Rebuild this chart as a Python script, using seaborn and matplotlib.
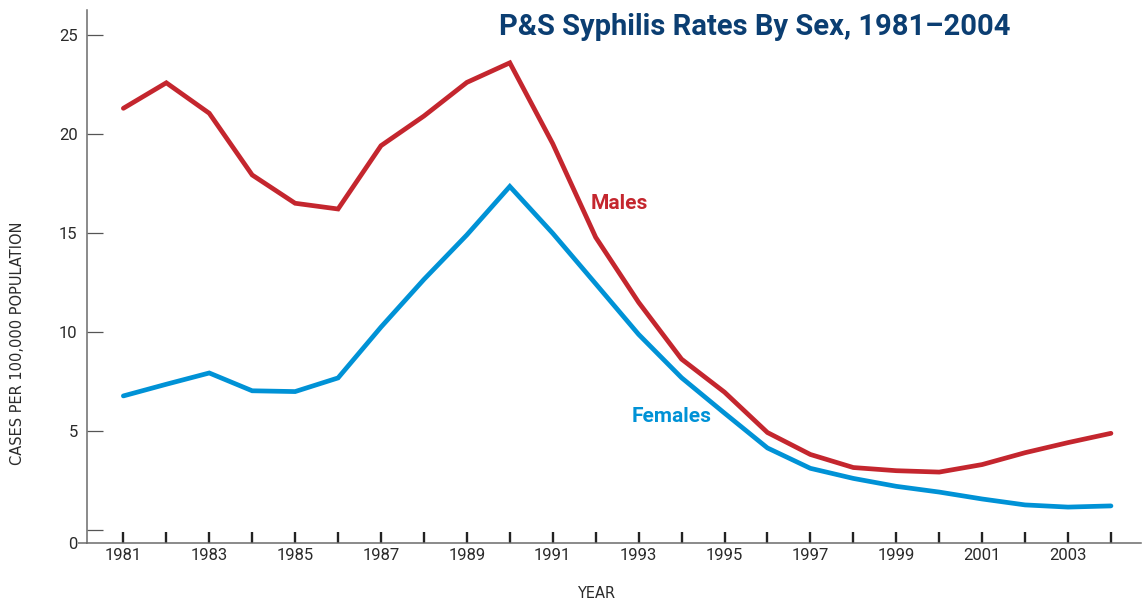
import matplotlib
matplotlib.use("Agg")
import matplotlib.pyplot as plt
import seaborn as sns
import pandas as pd

years = list(range(1981, 2005))
males = [21.30, 22.59, 21.05, 17.93, 16.50, 16.21, 19.41, 20.91, 22.61, 23.60,
         19.51, 14.78, 11.49, 8.62, 6.95, 4.91, 3.80, 3.14, 2.98, 2.91,
         3.29, 3.89, 4.40, 4.87]
females = [6.76, 7.35, 7.92, 7.02, 6.98, 7.67, 10.24, 12.65, 14.90, 17.35,
           14.98, 12.43, 9.87, 7.68, 5.89, 4.13, 3.10, 2.59, 2.19, 1.90,
           1.55, 1.25, 1.14, 1.20]
series_names = ["Males", "Females"]
y_ticks = [0, 5, 10, 15, 20, 25]
title_text = "P&S Syphilis Rates By Sex, 1981\u20132004"
ylabel_text = "CASES PER 100,000 POPULATION"
xlabel_text = "YEAR"

RED = "#c4262e"
BLUE = "#0092d6"
NAVY = "#0b3e72"

df = pd.DataFrame({
    "Year": years * 2,
    "Rate": males + females,
    "Sex": [series_names[0]] * len(years) + [series_names[1]] * len(years),
})

sns.set_theme(style="white")
plt.rcParams["font.family"] = ["Roboto", "DejaVu Sans"]

fig = plt.figure(figsize=(11.42, 6.01), dpi=100)
ax = fig.add_axes([87.3 / 1142, 58.3 / 601, (1141 - 87.3) / 1142, (542.7 - 10) / 601])

sns.lineplot(data=df, x="Year", y="Rate", hue="Sex",
             palette={"Males": RED, "Females": BLUE},
             linewidth=3.4, legend=False, ax=ax,
             solid_capstyle="round", solid_joinstyle="miter")

ybot, ytop = -0.66, 26.27
ax.set_xlim(1980.16, 2004.70)
ax.set_ylim(ybot, ytop)

for s in ["top", "right"]:
    ax.spines[s].set_visible(False)
for s in ["left", "bottom"]:
    ax.spines[s].set_color("#6b6b6b")
    ax.spines[s].set_linewidth(1.1)

ax.set_xticks(years)
ax.set_xticklabels([str(y) if y % 2 == 1 else "" for y in years])
ax.tick_params(axis="x", which="major", direction="in", length=8, width=1.7,
               color="#222222", labelsize=12, labelcolor="#2a2a2a", pad=4, bottom=True)

ax.set_yticks(y_ticks)
ax.set_yticklabels([""] + [str(v) for v in y_ticks[1:]])
ax.tick_params(axis="y", which="major", direction="in", length=11.5, width=0.9,
               color="#555555", labelsize=12, labelcolor="#2a2a2a", pad=7, left=True)
ax.set_yticks([ybot], minor=True)
ax.set_yticklabels(["0"], minor=True)
ax.tick_params(axis="y", which="minor", direction="out", length=6.5, width=1.1,
               color="#6b6b6b", labelsize=12, labelcolor="#2a2a2a", pad=0.5, left=True)
ax.tick_params(axis="x", which="minor", bottom=False)

ax.set_xlabel(xlabel_text, fontsize=10.5, family="DejaVu Sans", fontweight="normal",
              color="#2a2a2a", va="center")
ax.xaxis.set_label_coords((596 - 87.3) / 1053.7, (542.7 - 594) / 532.7)
ax.set_ylabel(ylabel_text, fontsize=10.5, family="DejaVu Sans", fontweight="normal",
              color="#2a2a2a", va="center")
ax.yaxis.set_label_coords((18 - 87.3) / 1053.7, (542.7 - 343) / 532.7)

ax.text(1992.54, 16.51, "Males", color=RED, fontsize=15, fontweight="bold",
        ha="center", va="center")
ax.text(1993.77, 5.70, "Females", color=BLUE, fontsize=15, fontweight="bold",
        ha="center", va="center")

fig.text(755 / 1142, 1 - 27 / 601, title_text, color=NAVY, fontsize=21,
         fontweight="bold", ha="center", va="center")

fig.savefig("out.png", dpi=100)
